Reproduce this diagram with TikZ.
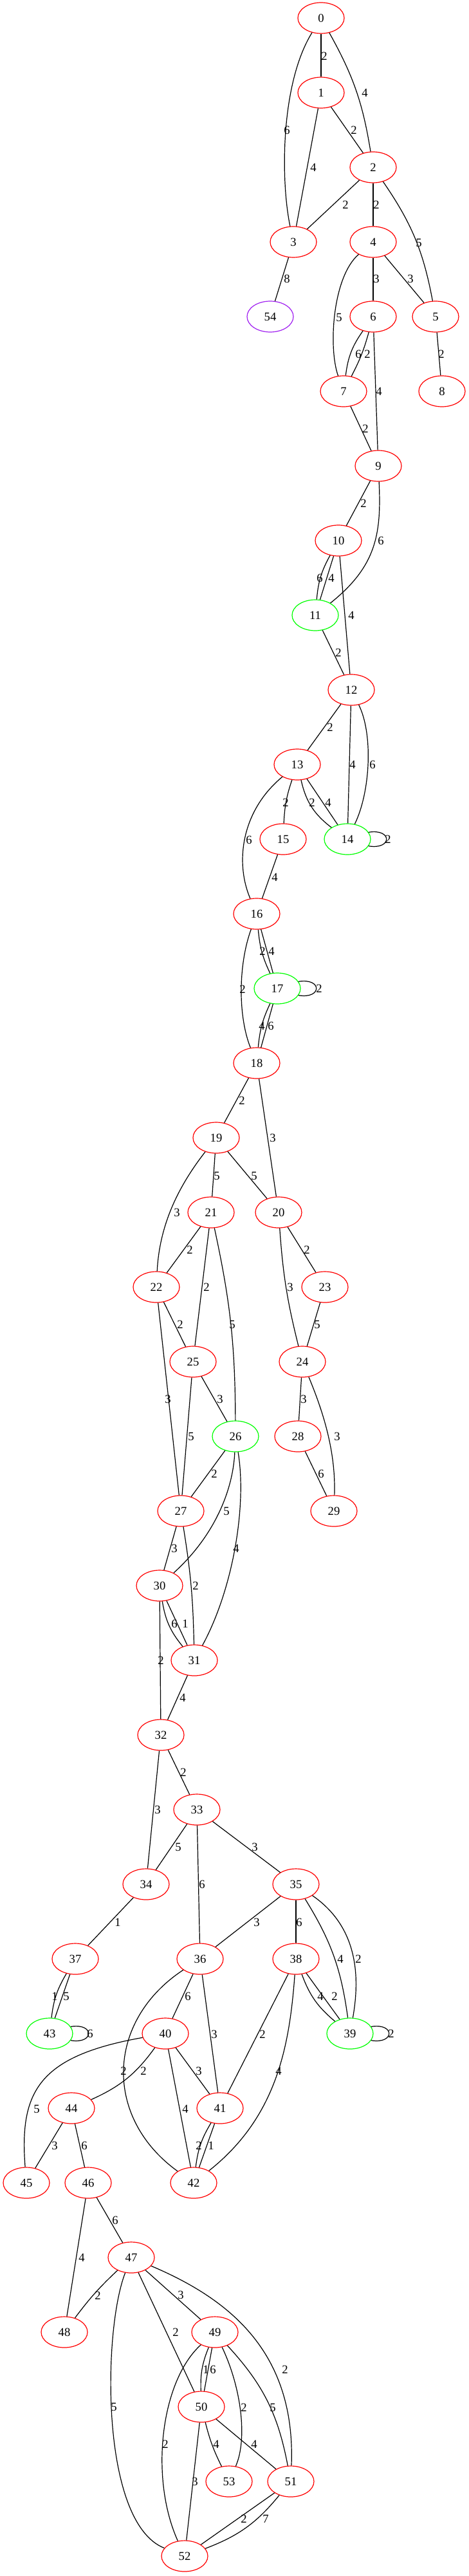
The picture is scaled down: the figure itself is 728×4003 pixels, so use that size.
\documentclass[tikz,border=0pt]{standalone}
\usepackage{fontspec}
\setmainfont{Liberation Serif}
\usetikzlibrary{shapes.geometric}
\definecolor{gvgreen}{RGB}{0,255,0}
\definecolor{gvpurple}{RGB}{160,32,240}
\begin{document}
\begin{tikzpicture}[x=0.75pt, y=-0.75pt, line width=0.9pt,
    vert/.style={ellipse, draw=red, minimum width=54pt, minimum height=36pt, inner sep=0pt, font=\fontsize{14}{16}\selectfont},
    vertg/.style={vert, draw=gvgreen},
    vertp/.style={vert, draw=gvpurple},
    wt/.style={inner sep=0pt, font=\fontsize{14}{16}\selectfont}]
    \useasboundingbox (0,0) rectangle (728,4003);
%% the vertices, one rank every 116 units
    \node[vert] (v0) at (499,28) {0};
    \node[vert] (v1) at (499,144) {1};
    \node[vert] (v2) at (580,260) {2};
    \node[vert] (v3) at (456,376) {3};
    \node[vert] (v4) at (580,376) {4};
    \node[vertp] (v54) at (420,492) {54};
    \node[vert] (v6) at (580,492) {6};
    \node[vert] (v5) at (677,492) {5};
    \node[vert] (v7) at (534,608) {7};
    \node[vert] (v8) at (687,608) {8};
    \node[vert] (v9) at (588,724) {9};
    \node[vert] (v10) at (526,840) {10};
    \node[vertg] (v11) at (490,956) {11};
    \node[vert] (v12) at (546,1072) {12};
    \node[vert] (v13) at (462,1188) {13};
    \node[vert] (v15) at (440,1304) {15};
    \node[vertg] (v14) at (540,1304) {14};
    \node[vert] (v16) at (399,1420) {16};
    \node[vertg] (v17) at (431,1536) {17};
    \node[vert] (v18) at (399,1652) {18};
    \node[vert] (v19) at (336,1768) {19};
    \node[vert] (v21) at (328,1884) {21};
    \node[vert] (v20) at (433,1884) {20};
    \node[vert] (v22) at (243,2000) {22};
    \node[vert] (v23) at (505,2000) {23};
    \node[vert] (v25) at (300,2116) {25};
    \node[vert] (v24) at (470,2116) {24};
    \node[vertg] (v26) at (366,2232) {26};
    \node[vert] (v28) at (463,2232) {28};
    \node[vert] (v27) at (281,2348) {27};
    \node[vert] (v29) at (519,2348) {29};
    \node[vert] (v30) at (248,2464) {30};
    \node[vert] (v31) at (302,2580) {31};
    \node[vert] (v32) at (250,2696) {32};
    \node[vert] (v33) at (306,2812) {33};
    \node[vert] (v34) at (227,2928) {34};
    \node[vert] (v35) at (460,2928) {35};
    \node[vert] (v37) at (117,3044) {37};
    \node[vert] (v36) at (311,3044) {36};
    \node[vert] (v38) at (460,3044) {38};
    \node[vertg] (v43) at (77,3160) {43};
    \node[vert] (v40) at (257,3160) {40};
    \node[vertg] (v39) at (544,3160) {39};
    \node[vert] (v44) at (111,3276) {44};
    \node[vert] (v41) at (342,3276) {41};
    \node[vert] (v45) at (41,3392) {45};
    \node[vert] (v46) at (137,3392) {46};
    \node[vert] (v42) at (301,3392) {42};
    \node[vert] (v47) at (204,3508) {47};
    \node[vert] (v48) at (100,3624) {48};
    \node[vert] (v49) at (334,3624) {49};
    \node[vert] (v50) at (313,3740) {50};
    \node[vert] (v53) at (356,3856) {53};
    \node[vert] (v51) at (452,3856) {51};
    \node[vert] (v52) at (287,3972) {52};
%% the edges with their weights
    \draw (v0) -- (v1) node[wt, at={(504,87)}] {2};
    \draw (v0) .. controls (436,130) and (436,280) .. (v3) node[wt, at={(446,202)}] {6};
    \draw (v0) to[bend left=10] (v2) node[wt, at={(567,144)}] {4};
    \draw (v1) -- (v2) node[wt, at={(550,202)}] {2};
    \draw (v1) -- (v3) node[wt, at={(487,260)}] {4};
    \draw (v2) -- (v3) node[wt, at={(537,318)}] {2};
    \draw (v2) -- (v4) node[wt, at={(585,318)}] {2};
    \draw (v2) to[bend left=12] (v5) node[wt, at={(651,377)}] {5};
    \draw (v3) -- (v54) node[wt, at={(446,433)}] {8};
    \draw (v4) .. controls (517,430) and (510,540) .. (v7) node[wt, at={(527,493)}] {5};
    \draw (v4) -- (v6) node[wt, at={(585,433)}] {3};
    \draw (v4) -- (v5) node[wt, at={(638,433)}] {3};
    \draw (v6) to[bend right=14] (v7) node[wt, at={(557,550)}] {6};
    \draw (v6) to[bend left=6] (v7) node[wt, at={(571,550)}] {2};
    \draw (v5) -- (v8) node[wt, at={(686,550)}] {2};
    \draw (v6) -- (v9) node[wt, at={(589,608)}] {4};
    \draw (v7) -- (v9) node[wt, at={(568,666)}] {2};
    \draw (v9) -- (v10) node[wt, at={(565,782)}] {2};
    \draw (v9) .. controls (593,830) and (585,880) .. (v11) node[wt, at={(592,840)}] {6};
    \draw (v10) to[bend right=12] (v11) node[wt, at={(497,898)}] {6};
    \draw (v10) -- (v11) node[wt, at={(515,898)}] {4};
    \draw (v10) -- (v12) node[wt, at={(546,956)}] {4};
    \draw (v11) -- (v12) node[wt, at={(526,1014)}] {2};
    \draw (v12) -- (v13) node[wt, at={(513,1130)}] {2};
    \draw (v12) -- (v14) node[wt, at={(548,1188)}] {4};
    \draw (v12) .. controls (580,1140) and (576,1230) .. (v14) node[wt, at={(579,1188)}] {6};
    \draw (v13) to[bend right=8] (v15) node[wt, at={(444,1247)}] {2};
    \draw (v13) to[bend right=20] (v14) node[wt, at={(485,1247)}] {2};
    \draw (v13) -- (v14) node[wt, at={(510,1247)}] {4};
    \draw (v14.18) .. controls +(37,-6) and +(37,6) .. (v14.-18) node[wt, at={(603,1304)}] {2};
    \draw (v13) .. controls (375,1260) and (365,1340) .. (v16) node[wt, at={(387,1305)}] {6};
    \draw (v15) -- (v16) node[wt, at={(427,1363)}] {4};
    \draw (v16) to[bend right=10] (v17) node[wt, at={(408,1478)}] {2};
    \draw (v16) -- (v17) node[wt, at={(422,1478)}] {4};
    \draw (v16) .. controls (370,1500) and (370,1580) .. (v18) node[wt, at={(377,1537)}] {2};
    \draw (v17.18) .. controls +(37,-6) and +(37,6) .. (v17.-18) node[wt, at={(496,1536)}] {2};
    \draw (v17) to[bend right=10] (v18) node[wt, at={(407,1594)}] {4};
    \draw (v17) -- (v18) node[wt, at={(421,1594)}] {6};
    \draw (v18) -- (v19) node[wt, at={(376,1710)}] {2};
    \draw (v18) -- (v20) node[wt, at={(424,1768)}] {3};
    \draw (v19) -- (v21) node[wt, at={(337,1827)}] {5};
    \draw (v19) -- (v20) node[wt, at={(395,1827)}] {5};
    \draw (v19) .. controls (280,1840) and (248,1900) .. (v22) node[wt, at={(275,1884)}] {3};
    \draw (v21) -- (v22) node[wt, at={(295,1942)}] {2};
    \draw (v21) -- (v25) node[wt, at={(321,2000)}] {2};
    \draw (v21) to[bend left=6] (v26) node[wt, at={(361,2058)}] {5};
    \draw (v20) to[bend right=5] (v24) node[wt, at={(451,2000)}] {3};
    \draw (v20) -- (v23) node[wt, at={(477,1942)}] {2};
    \draw (v22) -- (v25) node[wt, at={(280,2058)}] {2};
    \draw (v23) -- (v24) node[wt, at={(493,2058)}] {5};
    \draw (v22) -- (v27) node[wt, at={(261,2174)}] {3};
    \draw (v25) -- (v27) node[wt, at={(297,2232)}] {5};
    \draw (v25) -- (v26) node[wt, at={(342,2174)}] {3};
    \draw (v24) -- (v28) node[wt, at={(472,2174)}] {3};
    \draw (v24) .. controls (505,2200) and (522,2260) .. (v29) node[wt, at={(524,2232)}] {3};
    \draw (v26) -- (v27) node[wt, at={(333,2290)}] {2};
    \draw (v28) -- (v29) node[wt, at={(499,2290)}] {6};
    \draw (v26) .. controls (362,2320) and (330,2390) .. (v30) node[wt, at={(352,2348)}] {5};
    \draw (v26) .. controls (384,2340) and (362,2470) .. (v31) node[wt, at={(367,2406)}] {4};
    \draw (v27) -- (v30) node[wt, at={(271,2406)}] {3};
    \draw (v27) to[bend left=4] (v31) node[wt, at={(304,2464)}] {2};
    \draw (v30) to[bend right=15] (v31) node[wt, at={(271,2523)}] {6};
    \draw (v30) -- (v31) node[wt, at={(288,2523)}] {1};
    \draw (v30) -- (v32) node[wt, at={(250,2580)}] {2};
    \draw (v31) -- (v32) node[wt, at={(284,2638)}] {4};
    \draw (v32) -- (v33) node[wt, at={(285,2754)}] {2};
    \draw (v32) -- (v34) node[wt, at={(245,2812)}] {3};
    \draw (v33) -- (v34) node[wt, at={(277,2870)}] {5};
    \draw (v33) -- (v36) node[wt, at={(314,2928)}] {6};
    \draw (v33) -- (v35) node[wt, at={(396,2870)}] {3};
    \draw (v34) -- (v37) node[wt, at={(183,2987)}] {1};
    \draw (v35) -- (v36) node[wt, at={(399,2987)}] {3};
    \draw (v35) -- (v38) node[wt, at={(465,2987)}] {6};
    \draw (v35) to[bend left=12] (v39) node[wt, at={(529,3044)}] {4};
    \draw (v35) .. controls (550,2990) and (562,3060) .. (v39) node[wt, at={(557,3044)}] {2};
    \draw (v37) to[bend right=12] (v43) node[wt, at={(85,3102)}] {1};
    \draw (v37) -- (v43) node[wt, at={(103,3102)}] {5};
    \draw (v36) -- (v40) node[wt, at={(292,3102)}] {6};
    \draw (v38) to[bend right=15] (v39) node[wt, at={(498,3102)}] {4};
    \draw (v38) -- (v39) node[wt, at={(520,3102)}] {2};
    \draw (v43.18) .. controls +(37,-6) and +(37,6) .. (v43.-18) node[wt, at={(140,3160)}] {6};
    \draw (v39.18) .. controls +(37,-6) and +(37,6) .. (v39.-18) node[wt, at={(608,3160)}] {2};
    \draw (v36) -- (v41) node[wt, at={(333,3161)}] {3};
    \draw (v38) -- (v41) node[wt, at={(408,3161)}] {2};
    \draw (v36) .. controls (165,3140) and (160,3290) .. (v42) node[wt, at={(192,3218)}] {2};
    \draw (v38) .. controls (450,3180) and (430,3290) .. (v42) node[wt, at={(433,3218)}] {4};
    \draw (v40) to[bend left=15] (v44) node[wt, at={(223,3218)}] {2};
    \draw (v40) -- (v41) node[wt, at={(309,3218)}] {3};
    \draw (v40) .. controls (60,3195) and (30,3250) .. (v45) node[wt, at={(57,3277)}] {5};
    \draw (v40) -- (v42) node[wt, at={(288,3277)}] {4};
    \draw (v44) -- (v45) node[wt, at={(85,3334)}] {3};
    \draw (v44) -- (v46) node[wt, at={(131,3334)}] {6};
    \draw (v41) to[bend right=12] (v42) node[wt, at={(309,3334)}] {2};
    \draw (v41) -- (v42) node[wt, at={(328,3334)}] {1};
    \draw (v46) -- (v47) node[wt, at={(179,3450)}] {6};
    \draw (v46) -- (v48) node[wt, at={(127,3508)}] {4};
    \draw (v47) to[bend right=5] (v48) node[wt, at={(152,3567)}] {2};
    \draw (v47) -- (v49) node[wt, at={(281,3566)}] {3};
    \draw (v47) -- (v50) node[wt, at={(273,3624)}] {2};
    \draw (v47) .. controls (350,3570) and (460,3650) .. (v51) node[wt, at={(443,3682)}] {2};
    \draw (v47) .. controls (160,3620) and (155,3920) .. (v52) node[wt, at={(177,3740)}] {5};
    \draw (v49) to[bend right=12] (v50) node[wt, at={(320,3682)}] {1};
    \draw (v49) -- (v50) node[wt, at={(331,3682)}] {6};
    \draw (v49) .. controls (375,3710) and (385,3790) .. (v53) node[wt, at={(379,3741)}] {2};
    \draw (v49) to[bend left=16] (v51) node[wt, at={(424,3741)}] {5};
    \draw (v49) .. controls (250,3700) and (232,3850) .. (v52) node[wt, at={(257,3798)}] {2};
    \draw (v50) to[bend right=6] (v53) node[wt, at={(336,3798)}] {4};
    \draw (v50) -- (v51) node[wt, at={(395,3798)}] {4};
    \draw (v50) -- (v52) node[wt, at={(303,3856)}] {3};
    \draw (v51) -- (v52) node[wt, at={(379,3914)}] {2};
    \draw (v51) to[bend left=15] (v52) node[wt, at={(413,3914)}] {7};
\end{tikzpicture}
\end{document}
